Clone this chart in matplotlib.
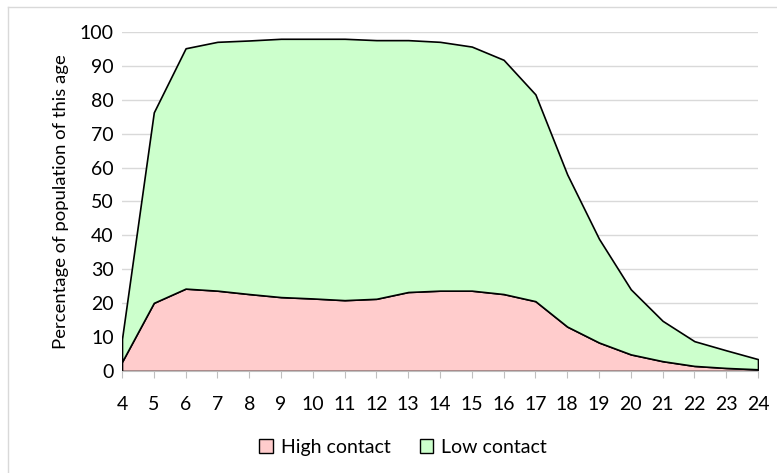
import matplotlib.pyplot as plt
from matplotlib.patches import Patch
from matplotlib.lines import Line2D

# --- DATA ---
ages = [4, 5, 6, 7, 8, 9, 10, 11, 12, 13, 14, 15, 16, 17, 18, 19, 20, 21, 22, 23, 24]
high_contact = [2.7, 20.1, 24.3, 23.7, 22.7, 21.8, 21.4, 20.9, 21.3, 23.3, 23.7, 23.7,
                22.7, 20.6, 13.1, 8.4, 4.9, 2.9, 1.5, 0.9, 0.5]
total = [9.5, 76.3, 95.2, 97.1, 97.5, 98.0, 98.0, 98.0, 97.6, 97.6, 97.1, 95.7,
         91.8, 81.6, 58.0, 39.0, 24.1, 14.8, 8.8, 6.1, 3.5]
low_contact = [t - h for t, h in zip(total, high_contact)]

labels = ["High contact", "Low contact"]
colors = ["#FFCCCC", "#CCFFCC"]

plt.rcParams['font.family'] = ['Lato', 'DejaVu Sans']

fig = plt.figure(figsize=(7.77, 4.73), dpi=100)
ax = fig.add_axes([122 / 777, 1 - 371 / 473, 636 / 777, 339 / 473])

ax.stackplot(ages, high_contact, low_contact, colors=colors,
             edgecolor="black", linewidth=1.2, zorder=3)

ax.set_xlim(4, 24)
ax.set_ylim(0, 100)
ax.set_xticks(ages)
ax.set_yticks(range(0, 101, 10))
ax.tick_params(axis="x", length=5, color="#BFBFBF", labelsize=14, pad=13)
ax.tick_params(axis="y", length=0, labelsize=14, pad=6)
ax.grid(axis="y", color="#D9D9D9", linewidth=1, zorder=0)
ax.set_axisbelow(True)

for s in ["top", "right", "left"]:
    ax.spines[s].set_visible(False)
ax.spines["bottom"].set_color("#BFBFBF")
ax.spines["bottom"].set_zorder(5)

ax.set_ylabel("Percentage of population of this age", fontsize=13.3, labelpad=8)

# outer chart border (only top/left show in the crop)
fig.add_artist(Line2D([8 / 777, 8 / 777], [0, 1 - 7 / 473], color="#D9D9D9",
                      linewidth=1, transform=fig.transFigure))
fig.add_artist(Line2D([8 / 777, 1], [1 - 7 / 473, 1 - 7 / 473], color="#D9D9D9",
                      linewidth=1, transform=fig.transFigure))

handles = [Patch(facecolor=c, edgecolor="black", linewidth=1) for c in colors]
fig.legend(handles, labels, loc="center", bbox_to_anchor=(403 / 777, 1 - 447 / 473),
           ncol=2, frameon=False, fontsize=14, handlelength=0.7, handleheight=0.7,
           handletextpad=0.4, columnspacing=1.5)

fig.savefig("out.png", dpi=100)
